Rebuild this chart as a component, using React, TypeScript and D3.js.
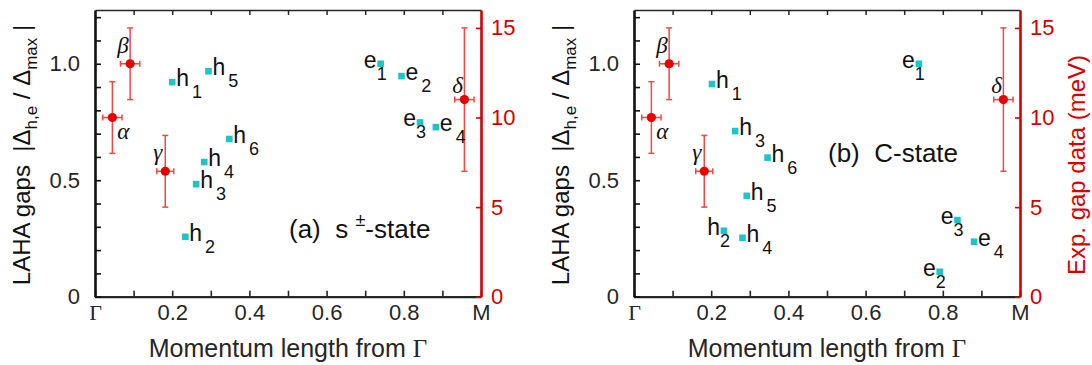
import React, { useEffect, useRef } from 'react'
import * as d3 from 'd3'

// experimental gaps (meV), shown against the right axis
const expNames = ['α', 'β', 'γ', 'δ']
const expMomentum = [0.045, 0.091, 0.182, 0.957]
const expMomentumErr = [0.025, 0.025, 0.022, 0.025]
const expGap = [10, 13, 7, 11]
const expGapErr = [2, 2, 2, 4]

// LAHA gaps |Δ/Δmax| per band
const bandNames = ['h1', 'h2', 'h3', 'h4', 'h5', 'h6', 'e1', 'e2', 'e3', 'e4']
const momentumA = [0.200, 0.234, 0.262, 0.283, 0.294, 0.348, 0.740, 0.794, 0.842, 0.883]
const gapA = [0.921, 0.257, 0.483, 0.578, 0.968, 0.677, 1.0, 0.947, 0.748, 0.728]
const momentumB = [0.202, 0.233, 0.262, 0.281, 0.292, 0.346, 0.738, 0.792, 0.838, 0.881]
const gapB = [0.913, 0.283, 0.711, 0.253, 0.433, 0.597, 1.0, 0.107, 0.329, 0.236]

const xTicks = [0, 0.2, 0.4, 0.6, 0.8, 1]
const xTickLabels = ['Γ', '0.2', '0.4', '0.6', '0.8', 'M']
const yTicks = [0, 0.5, 1.0]
const yTickLabels = ['0', '0.5', '1.0']
const meVTicks = [0, 5, 10, 15]
const meVTickLabels = ['0', '5', '10', '15']

// which side of the marker each band label sits on
const sidesA = ['R', 'R', 'R', 'R', 'R', 'R', 'L', 'R', 'L', 'R']
const sidesB = ['R', 'L', 'R', 'R', 'R', 'R', 'L', 'L', 'L', 'R']

const SANS = '"Liberation Sans", Arial, Helvetica, sans-serif'
const SERIF = '"Liberation Serif", "Times New Roman", serif'
const RED = '#d40000'
const CYAN = '#1cc6c6'
const GRAY = '#262626'

const top = 10
const bottom = 296.7
const plotW = 386

const near = (a: number, b: number) => Math.abs(a - b) < 1e-6

function drawPanel(svg: any, left: number, momentum: number[], gap: number[], sides: string[], tag: string, showRightTitle: boolean) {
    const g = svg.append('g').attr('transform', `translate(${left},0)`)

    const x = d3.scaleLinear().domain([0, 1]).range([0, plotW])
    const y = d3.scaleLinear().domain([0, 16 / 13]).range([bottom, top])
    const yR = d3.scaleLinear().domain([0, 16]).range([bottom, top])

    const xMinor = d3.range(0, 11).map(i => i / 10)
    const yMinor = d3.range(0, 13).map(i => i / 10)

    const xLabel = (d: number) => {
        const i = xTicks.findIndex(t => near(t, d))
        return i < 0 ? '' : xTickLabels[i]
    }
    const yLabel = (d: number) => {
        const i = yTicks.findIndex(t => near(t, d))
        return i < 0 ? '' : yTickLabels[i]
    }

    // top frame
    const topG = g.append('g').attr('transform', `translate(0,${top})`)
        .call(d3.axisTop(x).tickValues(xMinor.slice(1, -1)).tickSizeInner(-5).tickSizeOuter(0).tickFormat(() => ''))
    topG.select('.domain').attr('stroke', GRAY).attr('stroke-width', 1.5)
    topG.selectAll('.tick line').attr('stroke', GRAY).attr('stroke-width', 1.5)

    // bottom axis
    const xG = g.append('g').attr('transform', `translate(0,${bottom})`)
        .call(d3.axisBottom(x).tickValues(xMinor).tickSizeInner(-6).tickSizeOuter(0).tickPadding(8).tickFormat((d: any) => xLabel(d)))
    xG.select('.domain').attr('stroke', GRAY).attr('stroke-width', 2.2)
    xG.selectAll('.tick line').attr('stroke', GRAY).attr('stroke-width', 1.6)
    xG.selectAll('.tick text')
        .attr('fill', GRAY)
        .attr('font-size', 22)
        .attr('font-family', (d: any) => xLabel(d) === 'Γ' ? SERIF : SANS)

    // left axis
    const yG = g.append('g')
        .call(d3.axisLeft(y).tickValues(yMinor).tickSizeInner(-6).tickSizeOuter(0).tickPadding(15).tickFormat((d: any) => yLabel(d)))
    yG.select('.domain').attr('stroke', '#111').attr('stroke-width', 2.6)
    yG.selectAll('.tick line').attr('stroke', '#111').attr('stroke-width', 1.6)
    yG.selectAll('.tick text').attr('fill', GRAY).attr('font-size', 22).attr('font-family', SANS)

    // right axis (meV)
    const rG = g.append('g').attr('transform', `translate(${plotW},0)`)
        .call(d3.axisRight(yR).tickValues(meVTicks).tickSizeInner(-5).tickSizeOuter(0).tickPadding(10)
            .tickFormat((d: any) => meVTickLabels[meVTicks.indexOf(d)]))
    rG.select('.domain').attr('stroke', RED).attr('stroke-width', 2.6)
    rG.selectAll('.tick line').attr('stroke', RED).attr('stroke-width', 1.6)
    rG.selectAll('.tick text').attr('fill', RED).attr('font-size', 22).attr('font-family', SANS)

    // x title
    const xt = g.append('text')
        .attr('x', plotW / 2).attr('y', 357)
        .attr('text-anchor', 'middle')
        .attr('font-family', SANS).attr('font-size', 25).attr('fill', GRAY)
        .style('white-space', 'pre')
    xt.append('tspan').text('Momentum length from ')
    xt.append('tspan').attr('font-family', SERIF).text('Γ')

    // y title
    const yt = g.append('text')
        .attr('transform', `translate(-65,155) rotate(-90)`)
        .attr('text-anchor', 'middle')
        .attr('font-family', SANS).attr('font-size', 24).attr('fill', '#111')
        .style('white-space', 'pre')
    yt.append('tspan').text('LAHA gaps  |Δ')
    yt.append('tspan').attr('font-size', 17).attr('dy', 7).text('h,e')
    yt.append('tspan').attr('dy', -7).text(' / Δ')
    yt.append('tspan').attr('font-size', 17).attr('dy', 7).text('max')
    yt.append('tspan').attr('dy', -7).text(' |')

    if (showRightTitle) {
        g.append('text')
            .attr('transform', `translate(${plotW + 65},165) rotate(-90)`)
            .attr('text-anchor', 'middle')
            .attr('font-family', SANS).attr('font-size', 24).attr('fill', RED)
            .text('Exp. gap data (meV)')
    }

    // panel tag
    const tt = g.append('text')
        .attr('x', 194).attr('y', tag === 'a' ? 238 : 162)
        .attr('font-family', SANS).attr('font-size', 26).attr('fill', '#111')
        .style('white-space', 'pre')
    if (tag === 'a') {
        tt.append('tspan').text('(a)  s ')
        tt.append('tspan').attr('font-size', 18).attr('dy', -12).text('±')
        tt.append('tspan').attr('dy', 12).text('-state')
    } else {
        tt.append('tspan').text('(b)  C-state')
    }

    // experimental points with error bars
    const exp = expNames.map((n, i) => ({ n, m: expMomentum[i], me: expMomentumErr[i], v: expGap[i], ve: expGapErr[i] }))
    const eg = g.append('g').attr('stroke', '#f04848').attr('stroke-width', 1.5)
    exp.forEach(d => {
        const px = x(d.m), py = yR(d.v)
        const y1 = yR(d.v - d.ve), y2 = yR(d.v + d.ve)
        const x1 = x(d.m - d.me), x2 = x(d.m + d.me)
        eg.append('line').attr('x1', px).attr('x2', px).attr('y1', y1).attr('y2', y2)
        eg.append('line').attr('x1', px - 3).attr('x2', px + 3).attr('y1', y1).attr('y2', y1)
        eg.append('line').attr('x1', px - 3).attr('x2', px + 3).attr('y1', y2).attr('y2', y2)
        eg.append('line').attr('x1', x1).attr('x2', x2).attr('y1', py).attr('y2', py)
        eg.append('line').attr('x1', x1).attr('x2', x1).attr('y1', py - 3).attr('y2', py + 3)
        eg.append('line').attr('x1', x2).attr('x2', x2).attr('y1', py - 3).attr('y2', py + 3)
    })
    g.append('g').selectAll('circle').data(exp).join('circle')
        .attr('cx', d => x(d.m)).attr('cy', d => yR(d.v)).attr('r', 4.6)
        .attr('fill', '#e60000')

    // greek labels
    const greekPlace: Record<string, [number, number, string]> = {
        'α': [5, 21, 'start'],
        'β': [-1.5, -11, 'end'],
        'γ': [-3, -11, 'end'],
        'δ': [-1.5, -7, 'end'],
    }
    g.append('g').selectAll('text').data(exp).join('text')
        .attr('x', d => x(d.m) + greekPlace[d.n][0])
        .attr('y', d => yR(d.v) + greekPlace[d.n][1])
        .attr('text-anchor', d => greekPlace[d.n][2])
        .attr('font-family', SERIF).attr('font-style', 'italic').attr('font-size', 23).attr('fill', '#111')
        .text(d => d.n)

    // LAHA band gaps
    const bands = bandNames.map((n, i) => ({ main: n[0], sub: n.slice(1), m: momentum[i], v: gap[i], side: sides[i] }))
    g.append('g').selectAll('rect').data(bands).join('rect')
        .attr('x', d => x(d.m) - 3.3).attr('y', d => y(d.v) - 3.3)
        .attr('width', 6.6).attr('height', 6.6)
        .attr('fill', CYAN)

    const lg = g.append('g').attr('font-family', SANS).attr('fill', '#111')
    bands.forEach(d => {
        const px = x(d.m), py = y(d.v)
        if (d.side === 'R') {
            const t = lg.append('text').attr('x', px + 4).attr('y', py + 4).attr('font-size', 23)
            t.append('tspan').text(d.main)
            t.append('tspan').attr('dx', 3).attr('dy', 12).attr('font-size', 18).text(d.sub)
        } else {
            lg.append('text').attr('x', px - 4).attr('y', py + 4).attr('font-size', 23)
                .attr('text-anchor', 'end').text(d.main)
            lg.append('text').attr('x', px - 4).attr('y', py + 16).attr('font-size', 18).text(d.sub)
        }
    })
}

const App = () => {
    const ref = useRef<SVGSVGElement>(null)
    useEffect(() => {
        const svg = d3.select(ref.current)
        svg.selectAll('*').remove()
        drawPanel(svg, 95, momentumA, gapA, sidesA, 'a', false)
        drawPanel(svg, 634, momentumB, gapB, sidesB, 'b', true)
    }, [])
    return (
        <svg ref={ref} width={1092} height={365}
            style={{ position: 'absolute', left: 0, top: 0, background: '#fff' }} />
    )
}

export default App
